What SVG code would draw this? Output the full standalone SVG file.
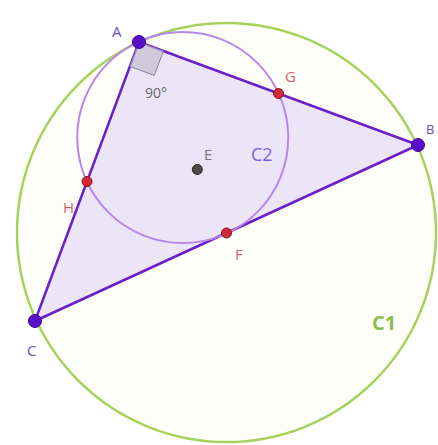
<svg xmlns="http://www.w3.org/2000/svg" width="438" height="445" viewBox="0 0 438 445">
<style>
.lbl{font-family:"Open Sans","DejaVu Sans",sans-serif;font-size:15px}
.vtx{fill:#5a0fc8;stroke:#3d0090;stroke-width:1}
.mid{fill:#d42a35;stroke:#8a1020;stroke-width:1}
.pl{fill:#6a4fd0}
.rl{fill:#d9606a}
</style>
<rect width="438" height="445" fill="#ffffff"/>
<g id="C1">
<circle cx="226.5" cy="232.5" r="209.5" fill="#fdfefa" stroke="#a6d25a" stroke-width="2.5"/>
<text class="lbl" x="372" y="330" font-weight="bold" fill="#8dbb4c" style="font-size:20px">C1</text>
</g>
<g id="triangle">
<polygon points="139,42 418,145 35,321" fill="#ebe5f7" stroke="#6a1fc8" stroke-width="2.5" stroke-linejoin="round"/>
<polygon points="139,42 163.4,51 154.3,75.4 129.9,66.4" fill="#c9c3d6" fill-opacity="0.8" stroke="#8a80a0" stroke-width="1"/>
<text x="145" y="98" font-family="'Open Sans','DejaVu Sans',sans-serif" font-size="14" fill="#666666">90°</text>
</g>
<g id="C2">
<circle cx="182.75" cy="137.5" r="105.5" fill="none" stroke="#b886ea" stroke-width="2"/>
<text class="lbl" x="251" y="161" fill="#7a5fe0" style="font-size:18px">C2</text>
</g>
<g id="E">
<circle cx="197.3" cy="169.5" r="5" fill="#4a4a4a" stroke="#222" stroke-width="1"/>
<text class="lbl" x="204" y="160" fill="#777777">E</text>
</g>
<g id="G">
<circle cx="278.5" cy="93.5" r="5" class="mid"/>
<text class="lbl rl" x="285" y="82">G</text>
</g>
<g id="H">
<circle cx="87" cy="181.5" r="5" class="mid"/>
<text class="lbl rl" x="63" y="213">H</text>
</g>
<g id="F">
<circle cx="226.5" cy="233" r="5" class="mid"/>
<text class="lbl rl" x="235" y="260">F</text>
</g>
<g id="A">
<circle cx="139" cy="42" r="6.5" class="vtx"/>
<text class="lbl pl" x="112" y="37">A</text>
</g>
<g id="B">
<circle cx="418" cy="145" r="6.5" class="vtx"/>
<text class="lbl pl" x="426" y="134" style="font-size:13px">B</text>
</g>
<g id="C">
<circle cx="35" cy="321" r="6.5" class="vtx"/>
<text class="lbl pl" x="27" y="356">C</text>
</g>
</svg>
